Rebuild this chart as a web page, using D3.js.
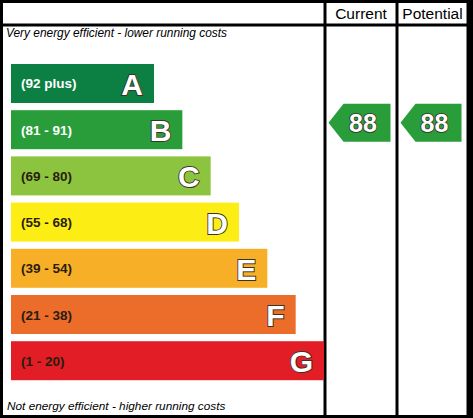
<!DOCTYPE html>
<html>
<head>
<meta charset="utf-8">
<script src="https://cdn.jsdelivr.net/npm/d3@7"></script>
<style>
  html, body { margin: 0; padding: 0; background: #fff; }
  svg { display: block; }
</style>
</head>
<body>
<svg id="chart" width="473" height="418"></svg>
<script>
// ---- data ----
const bands = ["A", "B", "C", "D", "E", "F", "G"];
const ranges = ["(92 plus)", "(81 - 91)", "(69 - 80)", "(55 - 68)", "(39 - 54)", "(21 - 38)", "(1 - 20)"];
const bandColors = ["#0c7f43", "#2a9d3b", "#8cc43f", "#fcee14", "#f7af28", "#ec6c2a", "#e31d25"];
const rangeTextColors = ["#ffffff", "#ffffff", "#2a1d0e", "#2a1d0e", "#2a1d0e", "#2a1d0e", "#2a1d0e"];
const columns = ["Current", "Potential"];
const ratings = [88, 88];           // current, potential
const ratingBands = ["B", "B"];
const topCaption = "Very energy efficient - lower running costs";
const bottomCaption = "Not energy efficient - higher running costs";

// ---- layout ----
const W = 473, H = 418;
const svg = d3.select("#chart");

// frame: black background with white cells
svg.append("rect").attr("x", 0).attr("y", 0).attr("width", W).attr("height", H).attr("fill", "#000");
const colBounds = [[3, 323.5], [326.5, 395.5], [398.5, 466.5]];
const rowBounds = [[3, 23.5], [26.5, 415]];
rowBounds.forEach(r => colBounds.forEach(c => {
  svg.append("rect").attr("x", c[0]).attr("y", r[0])
    .attr("width", c[1] - c[0]).attr("height", r[1] - r[0]).attr("fill", "#fff");
}));

// headers
columns.forEach((name, i) => {
  const c = colBounds[i + 1];
  svg.append("text").attr("x", (c[0] + c[1]) / 2).attr("y", 18.5)
    .attr("text-anchor", "middle")
    .attr("font-family", "Liberation Sans, Arial, sans-serif")
    .attr("font-size", 15.5).attr("fill", "#000").text(name);
});

// captions
svg.append("text").attr("x", 6).attr("y", 37)
  .attr("font-family", "Liberation Sans, Arial, sans-serif")
  .attr("font-style", "italic").attr("font-size", 11.9).attr("fill", "#000").text(topCaption);
svg.append("text").attr("x", 7).attr("y", 410)
  .attr("font-family", "Liberation Sans, Arial, sans-serif")
  .attr("font-style", "italic").attr("font-size", 11.8).attr("fill", "#000").text(bottomCaption);

// scales
const y = d3.scaleBand().domain(bands).range([64, 380.2]).paddingInner(0.156).paddingOuter(0);
const xRight = d3.scaleLinear().domain([0, bands.length - 1]).range([154, 324]);
const x0 = 11;

const g = svg.append("g");
const rows = g.selectAll("g.band").data(bands).join("g").attr("class", "band");

rows.append("rect")
  .attr("x", x0)
  .attr("y", d => y(d))
  .attr("width", (d, i) => xRight(i) - x0)
  .attr("height", y.bandwidth())
  .attr("fill", (d, i) => bandColors[i]);

rows.append("text")
  .attr("x", x0 + 10)
  .attr("y", d => y(d) + y.bandwidth() / 2 + 5)
  .attr("font-family", "Liberation Sans, Arial, sans-serif")
  .attr("font-weight", "bold").attr("font-size", 13.5)
  .attr("fill", (d, i) => rangeTextColors[i])
  .text((d, i) => ranges[i]);

rows.append("text")
  .attr("x", (d, i) => xRight(i) - 11)
  .attr("y", d => y(d) + y.bandwidth() - 8)
  .attr("text-anchor", "end")
  .attr("font-family", "Liberation Sans, Arial, sans-serif")
  .attr("font-weight", "bold").attr("font-size", 30)
  .attr("fill", "#fff").attr("stroke", "#3a3328").attr("stroke-width", 1.8)
  .attr("paint-order", "stroke")
  .text(d => d);

// rating arrows
ratings.forEach((val, i) => {
  const c = colBounds[i + 1];
  const bi = bands.indexOf(ratingBands[i]);
  const top = y(ratingBands[i]) - 6.5;
  const h = 38;
  const tip = c[0] + 2;
  const rs = tip + 15;
  const re = c[1] - 5;
  const path = d3.path();
  path.moveTo(tip, top + h / 2);
  path.lineTo(rs, top);
  path.lineTo(re, top);
  path.lineTo(re, top + h);
  path.lineTo(rs, top + h);
  path.closePath();
  svg.append("path").attr("d", path.toString()).attr("fill", bandColors[bi]);
  svg.append("text")
    .attr("x", (rs + re) / 2 - 4)
    .attr("y", top + h / 2 + 9)
    .attr("text-anchor", "middle")
    .attr("font-family", "Liberation Sans, Arial, sans-serif")
    .attr("font-weight", "bold").attr("font-size", 25)
    .attr("fill", "#fff").attr("stroke", "#3a3328").attr("stroke-width", 1.6)
    .attr("paint-order", "stroke")
    .text(val);
});
</script>
</body>
</html>
